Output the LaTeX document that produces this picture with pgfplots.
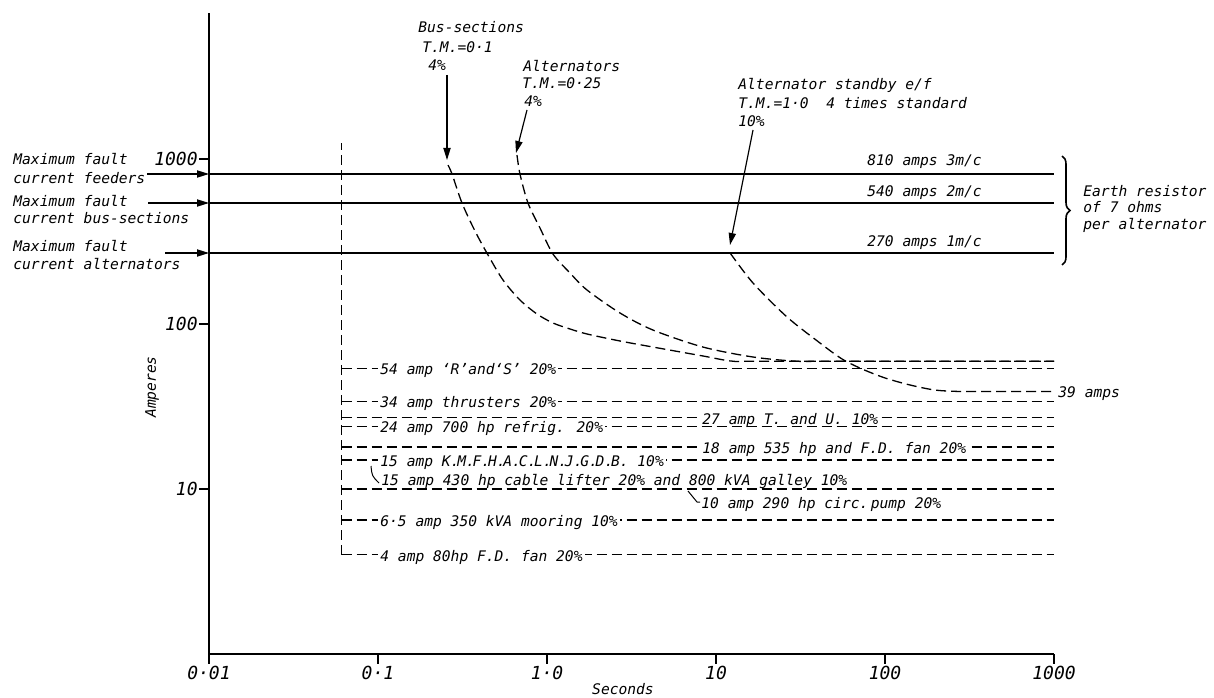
\documentclass[border=0pt]{standalone}
\usepackage{fontspec}
\setmainfont{DejaVu Sans}
\newfontfamily\lf{DejaVu Sans Mono}
\usepackage{pgfplots}
\pgfplotsset{compat=1.18}
\usetikzlibrary{arrows.meta,decorations.pathreplacing}
\newcommand{\lbl}{\lf\itshape\fontsize{7.3}{9}\selectfont}
\newcommand{\tlf}{\lf\itshape\fontsize{9}{10}\selectfont}
\newcommand{\dt}{.\kern-1.1pt}
\tikzset{
  dl/.style={line width=0.65pt, dash pattern=on 5pt off 2.5pt},
  sl/.style={line width=1pt},
  ar/.style={line width=0.6pt, -{Triangle[length=6pt,width=3.6pt]}},
  tx/.style={anchor=base west, inner sep=0pt, font=\lbl},
  tf/.style={anchor=base west, inner xsep=1pt, inner ysep=0.5pt, text depth=0pt, fill=white, font=\lbl},
}
\begin{document}
\begin{tikzpicture}
\path[use as bounding box] (0,0) rectangle (607pt,348.5pt);
\begin{axis}[
  at={(104.5pt,21.5pt)}, anchor=south west,
  scale only axis, width=422.5pt, height=320.5pt,
  xmode=log, ymode=log,
  xmin=0.01, xmax=1000, ymin=1, ymax=7674,
  axis lines*=left,
  axis line style={line width=0.65pt},
  xtick={0.01,0.1,1,10,100,1000},
  xticklabels={0·01,0·1,1·0,10,100,1000},
  ytick={10,100,1000},
  yticklabels={10,100,1000},
  xminorticks=false, yminorticks=false,
  tick align=outside,
  major tick length=5pt,
  tick style={line width=0.6pt, black},
  ticklabel style={font=\tlf},
  xticklabel style={inner sep=1pt},
  yticklabel style={inner sep=0.5pt},
  clip=false,
]
% earth-fault levels
\addplot[sl] coordinates {(0.01,810) (1000,810)};
\addplot[sl] coordinates {(0.01,540) (1000,540)};
\addplot[sl] coordinates {(0.01,270) (1000,270)};
% instantaneous relay settings
\addplot[dl] coordinates {(0.061,4) (0.061,1250)};
\addplot[dl] coordinates {(0.061,54) (1000,54)};
\addplot[dl] coordinates {(0.061,34) (1000,34)};
\addplot[dl] coordinates {(0.061,27) (1000,27)};
\addplot[dl] coordinates {(0.061,24) (1000,24)};
\addplot[dl] coordinates {(0.061,18) (1000,18)};
\addplot[dl] coordinates {(0.061,15) (1000,15)};
\addplot[dl] coordinates {(0.061,10) (1000,10)};
\addplot[dl] coordinates {(0.061,6.5) (1000,6.5)};
\addplot[dl] coordinates {(0.061,4) (1000,4)};
% IDMT curves
\addplot[dl, smooth] coordinates {(0.2596,919) (0.2742,811) (0.3141,541) (0.375,366) (0.4477,262) (0.549,184.8) (0.692,139.8) (0.8725,115) (1.085,101.4) (1.368,93.3) (1.725,87) (2.704,78.9) (4.24,72.5) (8.38,64) (12.6,59.5) (20,59.5) (1000,59.5)};
\addplot[dl, smooth] coordinates {(0.6645,1057) (0.692,811) (0.772,541) (0.909,381.8) (1.085,265.6) (1.368,203.8) (1.725,160.7) (2.704,116.6) (4.24,91.9) (8.38,72.5) (16.56,63.1) (30.1,59.5) (50,59.5) (1000,59.5)};
\addplot[dl, smooth] coordinates {(12.1,270) (16.56,177.2) (26.31,110.3) (41.25,76.7) (55.67,61.4) (73.1,53.4) (100,47.1) (140.6,42.7) (197.7,39.8) (277.8,39) (400,39) (1000,39)};
\end{axis}
\begin{scope}[yshift=348.5pt, x=0.5pt, y=-0.5pt]
% top annotations
\node[tx] at (418,33) {Bus-sections};
\node[tx] at (422,53) {T.M.=0·1};
\node[tx] at (428,71) {4\%};
\node[tx] at (523,72) {Alternators};
\node[tx] at (522,89) {T.M.=0·25};
\node[tx] at (524,107) {4\%};
\node[tx] at (738,90) {Alternator standby e/f};
\node[tx] at (738,109) {T.M.=1·0 \ 4 times standard};
\node[tx] at (738,127) {10\%};
\draw[ar] (447,75) -- (447,160);
\draw[ar] (527,110) -- (516,153);
\draw[ar] (753,130) -- (730,245);
% right annotations
\node[tx] at (867,166) {810 amps 3m/c};
\node[tx] at (867,197) {540 amps 2m/c};
\node[tx] at (867,247) {270 amps 1m/c};
\draw[line width=0.8pt, decorate, decoration={brace, amplitude=4pt}] (1062,156) -- (1062,265);
\node[tx] at (1083,197) {Earth resistor};
\node[tx] at (1083,213) {of 7 ohms};
\node[tx] at (1083,230) {per alternator};
% left annotations
\node[tx] at (13,165) {Maximum fault};
\node[tx] at (13,184) {current feeders};
\draw[ar] (147,174) -- (209,174);
\node[tx] at (13,207) {Maximum fault};
\node[tx] at (13,224) {current bus-sections};
\draw[ar] (148,203) -- (209,203);
\node[tx] at (13,252) {Maximum fault};
\node[tx] at (13,270) {current alternators};
\draw[ar] (165,253) -- (209,253);
% relay labels
\node[tf] at (378,374.3) {54 amp ‘R’and‘S’ 20\%};
\node[tf] at (378,407.5) {34 amp thrusters 20\%};
\node[tf] at (700,424.1) {27 amp T. and U. 10\%};
\node[tf] at (378,432.6) {24 amp 700 hp refrig. 20\%};
\node[tf] at (700,453.2) {18 amp 535 hp and F.D. fan 20\%};
\node[tf] at (378,466.4) {15 amp K\dt M\dt F\dt H\dt A\dt C\dt L\dt N\dt J\dt G\dt D\dt B. 10\%};
\node[tx] at (381,485) {15 amp 430 hp cable lifter 20\% and 800 kVA galley 10\%};
\draw[line width=0.5pt] (371,466) .. controls (372,476) .. (379,483);
\node[tx] at (701,508) {10 amp 290 hp circ.\,pump 20\%};
\draw[line width=0.5pt] (688,491) -- (697,502) -- (700,502);
\node[tf] at (378,526.5) {6·5 amp 350 kVA mooring 10\%};
\node[tf] at (378,561.4) {4 amp 80hp F.D. fan 20\%};
\node[tx] at (1058,397.7) {39 amps};
% axis titles
\node[font=\lbl, rotate=90] at (152,387) {Amperes};
\node[font=\lbl, anchor=base] at (623,694) {Seconds};
\end{scope}
\end{tikzpicture}
\end{document}
